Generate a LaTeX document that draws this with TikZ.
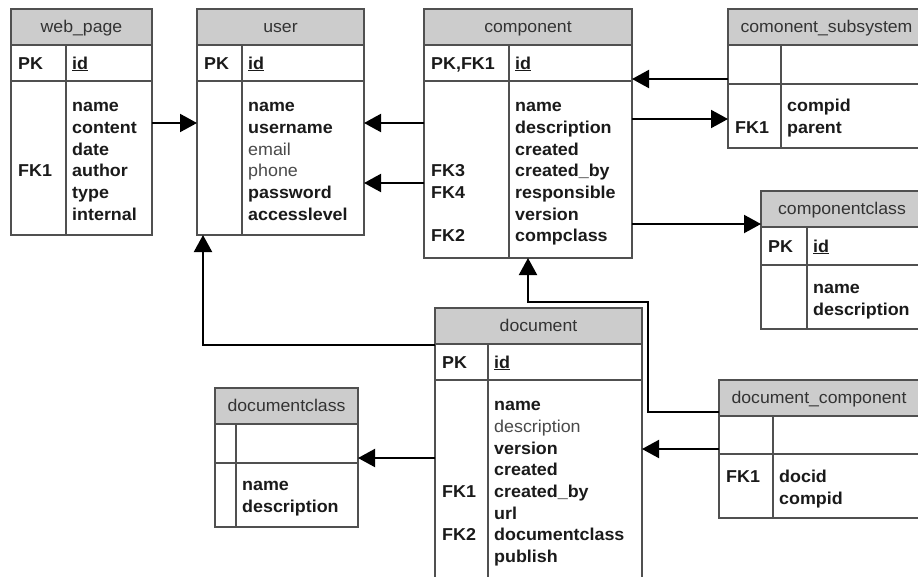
\documentclass[tikz,border=0pt]{standalone}
\usepackage{fontspec}
\setmainfont[FakeStretch=1.04]{Liberation Sans}
\usepackage{xcolor}
\definecolor{hdrgray}{HTML}{CCCCCC}
\definecolor{framegray}{HTML}{505050}
\definecolor{titlegray}{HTML}{333333}
\definecolor{fieldblack}{HTML}{1A1A1A}
\definecolor{plaingray}{HTML}{4A4A4A}
\usepackage{tikz}
\usetikzlibrary{arrows.meta, calc}

% Feld in normaler Schrift
\newcommand{\plainfld}[1]{{\mdseries\color{plaingray}#1}}

% Tabellenrahmen: Name, x, y, Breite, Hoehe, Schluesselspalte, PK-Zeile, Titel
\newcommand{\erdtab}[8]{%
  \node[tabframe, minimum width=#4pt, minimum height=#5pt] (#1) at (#2,#3) {};
  \fill[hdrgray] (#1.north west) rectangle ($(#1.north east)+(0,36)$);
  \draw[tabline] ($(#1.north west)+(0,36)$) -- ($(#1.north east)+(0,36)$);
  \draw[tabline] ($(#1.north west)+(0,36+#7)$) -- ($(#1.north east)+(0,36+#7)$);
  \draw[tabline] ($(#1.north west)+(#6,36)$) -- ($(#1.south west)+(#6,0)$);
  \draw[tabline] (#1.north west) rectangle (#1.south east);
  \node[titletext] (#1-title) at ($(#1.north)+(0,23)$) {#8};
  \coordinate (#1-kpk) at ($(#1.north west)+(7,36+#7/2+6)$);
  \coordinate (#1-vpk) at ($(#1.north west)+(#6+6,36+#7/2+6)$);
  \coordinate (#1-k0) at ($(#1.north west)+(7,81)$);
  \coordinate (#1-v0) at ($(#1.north west)+(#6+6,81)$);
}

% Zeilen: Name, PK, id, Liste Schluessel/Feld
\newcommand{\erdrows}[4]{%
  \node[keytext] (#1-pk) at (#1-kpk) {#2};
  \node[fieldtext] (#1-id) at (#1-vpk) {\underline{#3}};
  \foreach \k/\f [count=\i] in {#4}
    {\node[keytext] (#1-k\i) at ($(#1-k0)+(0,{21.7*\i})$) {\k};
     \node[fieldtext] (#1-f\i) at ($(#1-v0)+(0,{21.7*\i})$) {\f};}
}

\begin{document}
\begin{tikzpicture}[x=1pt, y=-1pt,
    tabframe/.style={anchor=north west, fill=white, inner sep=0pt, outer sep=0pt},
    tabline/.style={draw=framegray, line width=1.3pt},
    titletext/.style={anchor=base, inner sep=0pt, text=titlegray,
      font=\fontsize{17}{20}\selectfont},
    keytext/.style={anchor=base west, inner sep=0pt, text=fieldblack,
      font=\fontsize{17.2}{20}\selectfont\bfseries},
    fieldtext/.style={keytext},
    fk/.style={draw=black, line width=2pt, -{Triangle[length=17pt,width=18pt]}}
]
  \useasboundingbox (0,0) rectangle (918,576);

  % Tabellen oben
  \erdtab{webpage}{11}{9}{141}{226}{55}{36}{web\_page}
  \erdrows{webpage}{PK}{id}{/name, /content, /date, FK1/author, /type, /internal}

  \erdtab{user}{197}{9}{167}{226}{45}{36}{user}
  \erdrows{user}{PK}{id}{/name, /username, /\plainfld{email}, /\plainfld{phone},
    /password, /accesslevel}

  \erdtab{component}{424}{9}{208}{249}{85}{36}{component}
  \erdrows{component}{PK,FK1}{id}{/name, /description, /created, FK3/created\_by,
    FK4/responsible, /version, FK2/compclass}

  \erdtab{subsystem}{728}{9}{197}{139}{53}{39}{comonent\_subsystem}
  \erdrows{subsystem}{}{}{/compid, FK1/parent}

  \erdtab{compclass}{761}{191}{162}{138}{46}{38}{componentclass}
  \erdrows{compclass}{PK}{id}{/name, /description}

  % Tabellen unten
  \erdtab{document}{435}{308}{207}{290}{53}{36}{document}
  \erdrows{document}{PK}{id}{/name, /\plainfld{description}, /version, /created,
    FK1/created\_by, /url, FK2/documentclass, /publish}

  \erdtab{docclass}{215}{388}{143}{139}{21}{39}{documentclass}
  \erdrows{docclass}{}{}{/name, /description}

  \erdtab{doccomp}{719}{380}{200}{138}{54}{38}{document\_component}
  \erdrows{doccomp}{}{}{FK1/docid, /compid}

  % Fremdschluessel
  \draw[fk] (webpage.east |- 0,123) -- (user.west |- 0,123);
  \draw[fk] (component.west |- 0,123) -- (user.east |- 0,123);
  \draw[fk] (component.west |- 0,183) -- (user.east |- 0,183);
  \draw[fk] (subsystem.west |- 0,79) -- (component.east |- 0,79);
  \draw[fk] (component.east |- 0,119) -- (subsystem.west |- 0,119);
  \draw[fk] (component.east |- 0,224) -- (compclass.west |- 0,224);
  \draw[fk] (document.west |- 0,345) -| (user.south -| 203,0);
  \draw[fk] (document.west |- 0,458) -- (docclass.east |- 0,458);
  \draw[fk] (doccomp.west |- 0,449) -- (document.east |- 0,449);
  \coordinate (bend) at (648,302);
  \draw[fk] (doccomp.west |- 0,412) -| (bend) -| (component.south -| 528,0);

\end{tikzpicture}
\end{document}
